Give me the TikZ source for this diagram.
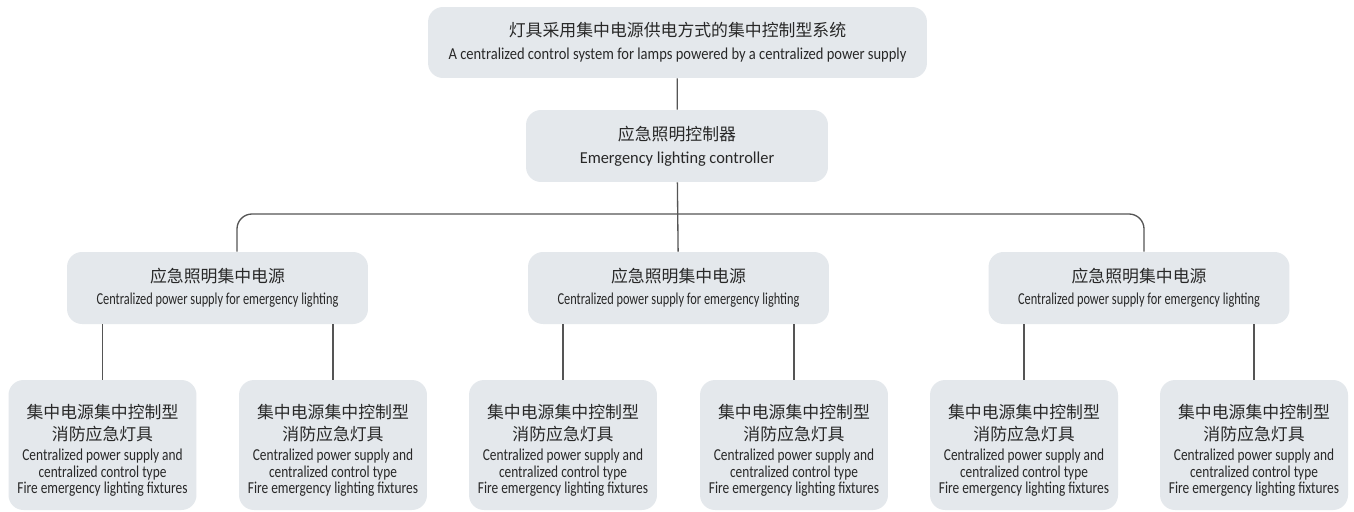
\documentclass[tikz,border=0pt]{standalone}
\usepackage{fontspec}
\setmainfont{Carlito}
\newfontfamily\cjk{Noto Sans CJK SC}
\newfontfamily\entop[FakeStretch=0.87]{Carlito}
\newfontfamily\enctrl[FakeStretch=0.98]{Carlito}
\newfontfamily\ensrc[FakeStretch=0.74]{Carlito}
\newfontfamily\enlamp[FakeStretch=0.80]{Carlito}
\usepackage{tikz}
\usetikzlibrary{positioning}

\definecolor{boxfill}{RGB}{228,232,236}
\definecolor{wirecol}{RGB}{85,85,85}
\definecolor{txtcol}{RGB}{40,40,40}

% font switches (no groups, so the last one sets the line spacing)
\newcommand{\cnf}{\cjk\fontsize{9.6}{12}\selectfont}
\newcommand{\topf}{\entop\fontsize{9.5}{11}\selectfont}
\newcommand{\ctrlf}{\enctrl\fontsize{9.5}{11}\selectfont}
\newcommand{\srcf}{\ensrc\fontsize{9.5}{10}\selectfont}
\newcommand{\lampf}{\enlamp\fontsize{9.5}{9.4}\selectfont}

\tikzset{
  card/.style={fill=boxfill, draw=none, rounded corners=0.3cm, align=flush center,
    text=txtcol, inner sep=0pt, execute at begin node={\lineskiplimit=-10pt}},
  topcard/.style={card, minimum width=9.98cm, text width=9.98cm, minimum height=1.42cm},
  ctrlcard/.style={card, minimum width=6.04cm, text width=6.04cm, minimum height=1.44cm},
  srccard/.style={card, minimum width=6.02cm, text width=6.02cm, minimum height=1.44cm},
  lampcard/.style={card, minimum width=3.76cm, text width=3.76cm, minimum height=2.6cm},
  wire/.style={draw=wirecol, line width=0.75pt},
}

\newcommand{\lamptext}{\vskip2.5pt\cnf 集中电源集中控制型\\[0.5pt]消防应急灯具\\[1.9pt]
  \lampf Centralized power supply and\\centralized control type\\Fire emergency lighting fixtures\par}
\newcommand{\srctext}{\cnf 应急照明集中电源\\[0.8pt]\srcf Centralized power supply for emergency lighting}

\begin{document}
\begin{tikzpicture}[x=0.02cm, y=-0.02cm]
\useasboundingbox[fill=white] (0,0) rectangle (1354,511);
% top levels
\node[topcard](sys) at (677.5,42.5) {\cnf 灯具采用集中电源供电方式的集中控制型系统\\[0.9pt]
  \topf A centralized control system for lamps powered by a centralized power supply};
\node[ctrlcard](ctrl) at (677,146) {\cnf 应急照明控制器\\[0.9pt]\ctrlf Emergency lighting controller};
% power supplies
\node[srccard](srcL) at (217.5,288) {\srctext};
\node[srccard](srcM) at (678.5,288) {\srctext};
\node[srccard](srcR) at (1139,288) {\srctext};
% lamps
\node[lampcard](lamp1) at (102.5,445) {\lamptext};
\node[lampcard](lamp2) at (333,445) {\lamptext};
\node[lampcard](lamp3) at (563,445) {\lamptext};
\node[lampcard](lamp4) at (794,445) {\lamptext};
\node[lampcard](lamp5) at (1024,445) {\lamptext};
\node[lampcard](lamp6) at (1254,445) {\lamptext};
%
\coordinate(bus) at (677,214);
\draw[wire](sys) -- (ctrl);
\draw[wire](ctrl) -- (srcM);
\draw[wire, rounded corners=0.3cm]([xshift=0.39cm]srcL.north) |- (bus) -| ([xshift=0.1cm]srcR.north);
\foreach \s/\a/\b in {srcL/lamp1/lamp2, srcM/lamp3/lamp4, srcR/lamp5/lamp6}{
  \draw[wire](\a.north |- \s.south) -- (\a.north);
  \draw[wire](\b.north |- \s.south) -- (\b.north);
}
\end{tikzpicture}
\end{document}
